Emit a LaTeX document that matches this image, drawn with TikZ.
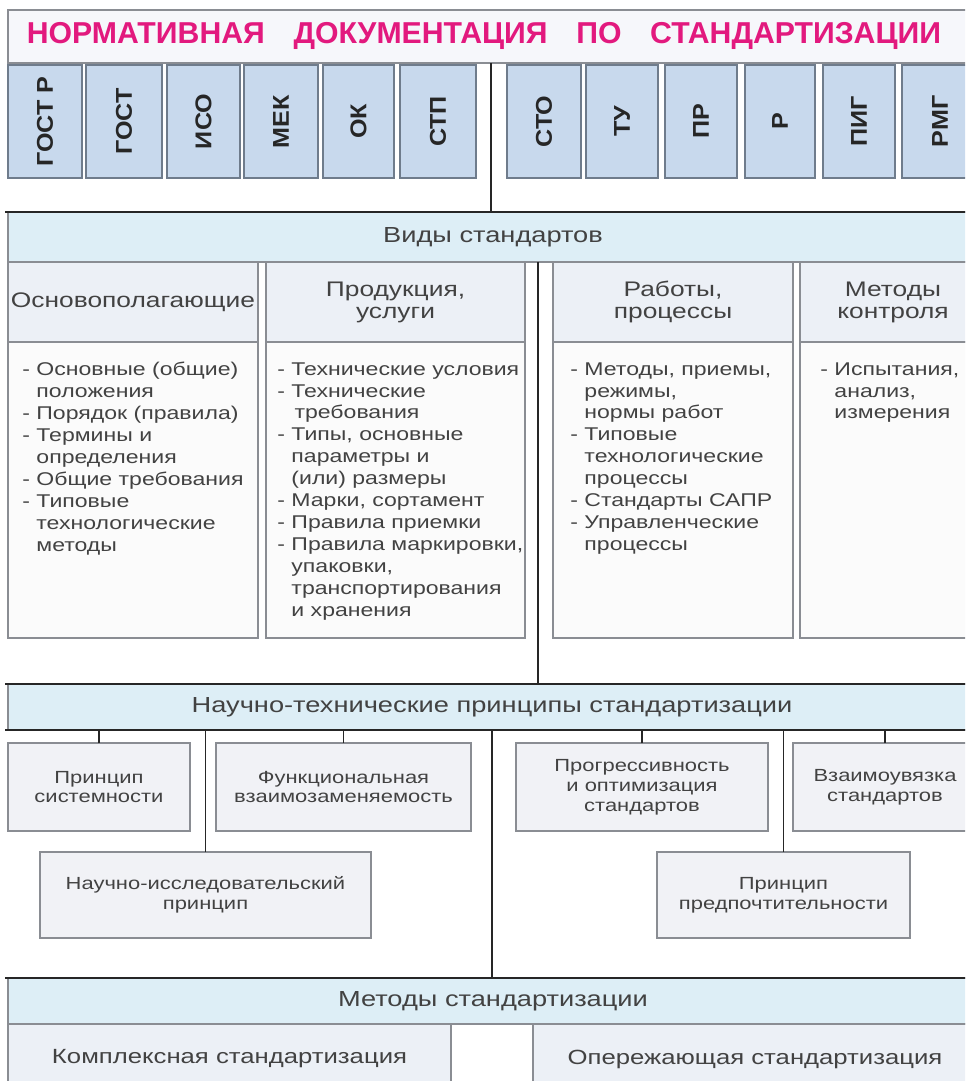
\documentclass[tikz,border=0pt]{standalone}
\usepackage{fontspec}
\setmainfont{Liberation Sans}[FakeStretch=1.25]
\newfontfamily\titlefont{Liberation Sans}
\newfontfamily\labfont{Liberation Sans}[FakeStretch=1.1]
\usetikzlibrary{positioning}

\definecolor{titlemag}{HTML}{E2197E}
\definecolor{titlefill}{HTML}{F6F7FB}
\definecolor{docfill}{HTML}{C8D9ED}
\definecolor{docline}{HTML}{6F7C8C}
\definecolor{bandfill}{HTML}{DDEEF6}
\definecolor{headfill}{HTML}{ECF0F6}
\definecolor{textfill}{HTML}{FBFBFB}
\definecolor{princfill}{HTML}{F1F2F6}
\definecolor{boxline}{HTML}{8A8D93}
\definecolor{txt}{HTML}{424242}
\definecolor{conncol}{HTML}{262626}

\tikzset{
  box/.style 2 args={anchor=north west, inner sep=0pt, outer sep=0pt, line width=0.8pt, draw=boxline,
    minimum width={(#1)*0.02cm}, minimum height={(#2)*0.02cm}},
  docbox/.style 2 args={box={#1}{#2}, fill=docfill, draw=docline},
  doclab/.style={rotate=90, text=black!85, font=\labfont\bfseries\fontsize{13}{14}\selectfont},
  band/.style 2 args={box={#1}{#2}, fill=bandfill, font=\fontsize{12.4}{15}\selectfont},
  headcell/.style 2 args={box={#1}{#2}, fill=headfill, align=center, font=\fontsize{12}{12.5}\selectfont},
  textcell/.style 2 args={box={#1}{#2}, fill=textfill},
  celltext/.style={anchor=north west, inner sep=0pt, align=left, font=\fontsize{10.5}{12.5}\selectfont},
  princ/.style 2 args={box={#1}{#2}, fill=princfill, align=center, font=\fontsize{10}{11.3}\selectfont},
  conn/.style={draw=conncol, line width=0.9pt},
  darkline/.style={draw=conncol, line width=1.3pt},
}

\begin{document}
\begin{tikzpicture}[x=0.02cm, y=-0.02cm, every node/.style={text=txt}]
\useasboundingbox (0,0) rectangle (965,1081);
\clip (0,0) rectangle (965,1081);
\fill[white] (0,0) rectangle (965,1081);

% title
\node[box={972}{53}, fill=titlefill] (tband) at (8,10) {};
\node[text=titlemag, font=\titlefont\bfseries\fontsize{17.2}{19}\selectfont] (title) at (484,36)
  {НОРМАТИВНАЯ\hspace{0.95em}ДОКУМЕНТАЦИЯ\hspace{0.95em}ПО\hspace{0.95em}СТАНДАРТИЗАЦИИ};

% documents
\foreach \nm/\xa/\xb/\lab in {gostr/8/82/ГОСТ Р,gost/86/162/ГОСТ,iso/167/240/ИСО,mek/244/318/МЕК,ok/323/394/ОК,stp/400/476/СТП,sto/507/581/СТО,tu/586/658/ТУ,pr/665/737/ПР,r/745/815/Р,pig/823/895/ПИГ,rmg/902/978/РМГ}
{
  \node[docbox={\xb-\xa}{113}] (\nm) at (\xa,65) {};
  \node[doclab] at (\nm.center) {\lab};
}

% vidy standartov
\node[band={970}{50}] (vband) at (8,212) {Виды стандартов};
\node[headcell={250}{80}] (h1) at (8,262) {Основополагающие};
\node[headcell={259}{80}] (h2) at (266,262) {Продукция,\\услуги};
\node[headcell={240}{80}] (h3) at (553,262) {Работы,\\процессы};
\node[headcell={186}{80}] (h4) at (800,262) {Методы\\контроля};
\node[textcell={250}{296}] (c1) at (8,342) {};
\node[textcell={259}{296}] (c2) at (266,342) {};
\node[textcell={240}{296}] (c3) at (553,342) {};
\node[textcell={186}{296}] (c4) at (800,342) {};

\node[celltext] (t1) at (22,362) {- Основные (общие)\\ \hphantom{- }положения\\ - Порядок (правила)\\ - Термины и\\ \hphantom{- }определения\\ - Общие требования\\ - Типовые\\ \hphantom{- }технологические\\ \hphantom{- }методы};
\node[celltext] (t2) at (277,362) {- Технические условия\\ - Технические\\ \hphantom{- }\,требования\\ - Типы, основные\\ \hphantom{- }параметры и\\ \hphantom{- }(или) размеры\\ - Марки, сортамент\\ - Правила приемки\\ - Правила маркировки,\\ \hphantom{- }упаковки,\\ \hphantom{- }транспортирования\\ \hphantom{- }и хранения};
\node[celltext] (t3) at (570,362) {- Методы, приемы,\\ \hphantom{- }режимы,\\ \hphantom{- }нормы работ\\ - Типовые\\ \hphantom{- }технологические\\ \hphantom{- }процессы\\ - Стандарты САПР\\ - Управленческие\\ \hphantom{- }процессы};
\node[celltext] (t4) at (820,362) {- Испытания,\\ \hphantom{- }анализ,\\ \hphantom{- }измерения};

% principles
\node[band={968}{46}] (nband) at (8,684) {Научно-технические принципы стандартизации};
\node[princ={182}{88}] (p1) at (8,743) {Принцип\\системности};
\node[princ={255}{88}] (p2) at (216,743) {Функциональная\\взаимозаменяемость};
\node[princ={252}{88}] (p3) at (516,743) {Прогрессивность\\и оптимизация\\стандартов};
\node[princ={184}{88}] (p4) at (793,743) {Взаимоувязка\\стандартов};
\node[princ={331}{86}] (p5) at (40,852) {Научно-исследовательский\\принцип};
\node[princ={253}{86}] (p6) at (657,852) {Принцип\\предпочтительности};

% methods
\node[band={970}{46}] (mband) at (8,978) {Методы стандартизации};
\node[headcell={443}{70}, font=\fontsize{11.7}{13}\selectfont] (b1) at (8,1024) {Комплексная стандартизация};
\node[headcell={444}{70}, font=\fontsize{11.7}{13}\selectfont] (b2) at (533,1024) {Опережающая стандартизация};

% lines
\draw[darkline] ([xshift=-0.06cm]vband.north west) -- (vband.north east);
\draw[darkline] ([xshift=-0.06cm]nband.north west) -- (nband.north east);
\draw[darkline] ([xshift=-0.06cm]nband.south west) -- (nband.south east);
\draw[darkline] ([xshift=-0.06cm]mband.north west) -- (mband.north east);

\coordinate (topx) at (491,0);
\coordinate (midx) at (538,0);
\coordinate (lowx) at (492,0);
\draw[conn] (topx |- tband.south) -- (topx |- vband.north);
\draw[conn] (midx |- vband.south) -- (midx |- nband.north);
\foreach \p in {p1,p2,p3,p4,p5,p6}
  \draw[conn] (\p.north) -- (\p.north |- nband.south);
\draw[conn] (lowx |- nband.south) -- (lowx |- mband.north);

\end{tikzpicture}
\end{document}
